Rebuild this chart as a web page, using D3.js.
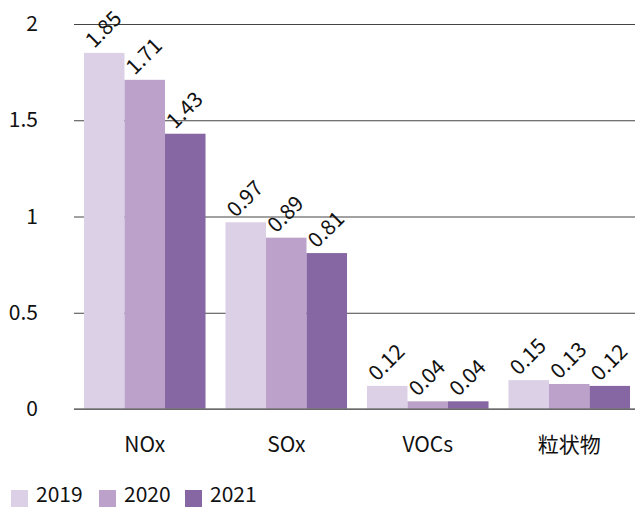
<!DOCTYPE html>
<html>
<head>
<meta charset="utf-8">
<script src="https://cdn.jsdelivr.net/npm/d3@7"></script>
<style>
  html, body { margin: 0; padding: 0; background: #fff; }
  svg { display: block; }
  svg text { font-family: "Noto Sans CJK JP", "Noto Sans", sans-serif; }
</style>
</head>
<body>
<svg id="chart" width="635" height="508"></svg>
<script>
// Emissions by pollutant and year
const categories = ["NOx", "SOx", "VOCs", "粒状物"];
const years = ["2019", "2020", "2021"];
const values2019 = [1.85, 0.97, 0.12, 0.15];
const values2020 = [1.71, 0.89, 0.04, 0.13];
const values2021 = [1.43, 0.81, 0.04, 0.12];
const yTicks = [0, 0.5, 1, 1.5, 2];
const colors = ["#dcd0e6", "#bca1cb", "#8667a3"];

const series = [values2019, values2020, values2021];
const FONT = '"Noto Sans CJK JP", "Noto Sans", sans-serif';
const FS = 21;

const svg = d3.select("#chart");

const y = d3.scaleLinear().domain([0, 2]).range([409, 24]);
const x0 = d3.scaleBand().domain(categories).range([74, 640])
  .paddingInner(0.141).paddingOuter(0.0705);
const x1 = d3.scaleBand().domain(years).range([0, x0.bandwidth()]);
const color = d3.scaleOrdinal().domain(years).range(colors);

// gridlines + y labels
const yAxis = d3.axisLeft(y).tickValues(yTicks).tickSize(-(635 - 74)).tickPadding(36)
  .tickFormat(d => String(d));
const gy = svg.append("g").attr("transform", "translate(74,0)").call(yAxis);
gy.attr("font-family", null).attr("font-size", null);
gy.select(".domain").remove();
gy.selectAll(".tick line").attr("stroke", "#444").attr("stroke-width", 1);
gy.selectAll(".tick text").style("font-family", FONT).style("font-size", FS + "px").attr("fill", "#111");

// bars
const groups = svg.append("g").selectAll("g")
  .data(categories)
  .join("g")
  .attr("transform", d => `translate(${x0(d)},0)`);

groups.selectAll("rect")
  .data((c, i) => years.map((yr, j) => ({ yr, v: series[j][i] })))
  .join("rect")
  .attr("x", d => x1(d.yr))
  .attr("width", x1.bandwidth())
  .attr("y", d => y(d.v))
  .attr("height", d => y(0) - y(d.v))
  .attr("fill", d => color(d.yr));

// value labels, rotated
groups.selectAll("text")
  .data((c, i) => years.map((yr, j) => ({ yr, v: series[j][i] })))
  .join("text")
  .attr("transform", d => `translate(${x1(d.yr) + x1.bandwidth() / 2 - 10},${y(d.v) - 4}) rotate(-45)`)
  .style("font-family", FONT)
  .style("font-size", FS + "px")
  .attr("fill", "#111")
  .text(d => d.v.toFixed(2));

// baseline
svg.append("line")
  .attr("x1", 74).attr("x2", 635)
  .attr("y1", y(0)).attr("y2", y(0))
  .attr("stroke", "#777").attr("stroke-width", 1.5);

// x axis labels
const xAxis = d3.axisBottom(x0).tickSize(0).tickPadding(0);
const gx = svg.append("g").attr("transform", `translate(0,${y(0)})`).call(xAxis);
gx.attr("font-family", null).attr("font-size", null);
gx.select(".domain").remove();
gx.selectAll(".tick text").attr("y", 43).attr("dy", null)
  .style("font-family", FONT).style("font-size", FS + "px").attr("fill", "#111");

// legend
const legend = svg.append("g").attr("transform", "translate(11,488)");
const legendX = [0, 88, 174];
years.forEach((yr, i) => {
  const g = legend.append("g").attr("transform", `translate(${legendX[i]},0)`);
  g.append("rect").attr("y", 2).attr("width", 17).attr("height", 17).attr("fill", color(yr));
  g.append("text").attr("x", 25).attr("y", 14).style("font-family", FONT)
    .style("font-size", FS + "px").attr("fill", "#111").text(yr);
});
</script>
</body>
</html>
